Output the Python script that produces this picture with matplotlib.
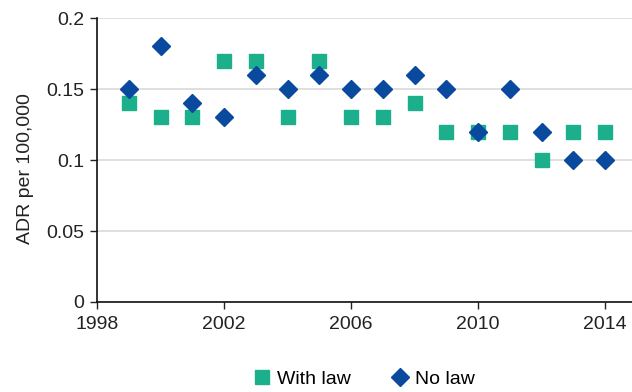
import matplotlib
matplotlib.use("Agg")
import matplotlib.pyplot as plt

plt.rcParams['font.family'] = ['Liberation Sans', 'DejaVu Sans']

years = [1999, 2000, 2001, 2002, 2003, 2004, 2005, 2006, 2007, 2008,
         2009, 2010, 2011, 2012, 2013, 2014]
with_law = [0.14, 0.13, 0.13, 0.17, 0.17, 0.13, 0.17, 0.13, 0.13, 0.14,
            0.12, 0.12, 0.12, 0.10, 0.12, 0.12]
no_law = [0.15, 0.18, 0.14, 0.13, 0.16, 0.15, 0.16, 0.15, 0.15, 0.16,
          0.15, 0.12, 0.15, 0.12, 0.10, 0.10]

C_GREEN = "#1BAF8C"
C_BLUE = "#0A4A9E"

fig = plt.figure(figsize=(6.32, 3.92), dpi=100)
ax = fig.add_axes([0.1535, 0.2296, 0.8465, 0.7244])

ax.plot(years, with_law, "s", color=C_GREEN, markersize=10.5, label="With law",
        linestyle="none", zorder=3)
ax.plot(years, no_law, "D", color=C_BLUE, markersize=9, label="No law",
        linestyle="none", zorder=3)

ax.set_xlim(1998, 2014.85)
ax.set_ylim(0, 0.2)
ax.set_xticks([1998, 2002, 2006, 2010, 2014])
ax.set_yticks([0, 0.05, 0.1, 0.15, 0.2])
ax.set_yticklabels(["0", "0.05", "0.1", "0.15", "0.2"])
ax.tick_params(labelsize=14, colors="#222222", direction="out", length=5, width=1)
ax.tick_params(axis="x", pad=5)
ax.tick_params(axis="y", pad=4)
ax.yaxis.grid(True, color="#D9D9D9", linewidth=1.2)
ax.set_axisbelow(True)
for s in ["top", "right"]:
    ax.spines[s].set_visible(False)
for s in ["left", "bottom"]:
    ax.spines[s].set_linewidth(1.2)
    ax.spines[s].set_color("#111111")

ax.set_ylabel("ADR per 100,000", fontsize=14, color="#222222")
ax.yaxis.set_label_coords(-0.118, 0.47)

fig.legend(loc="lower center", bbox_to_anchor=(0.575, -0.035), ncol=2,
           frameon=False, fontsize=14, handletextpad=0.3, columnspacing=2.0,
           handlelength=1.0)

fig.savefig("out.png", dpi=100)
